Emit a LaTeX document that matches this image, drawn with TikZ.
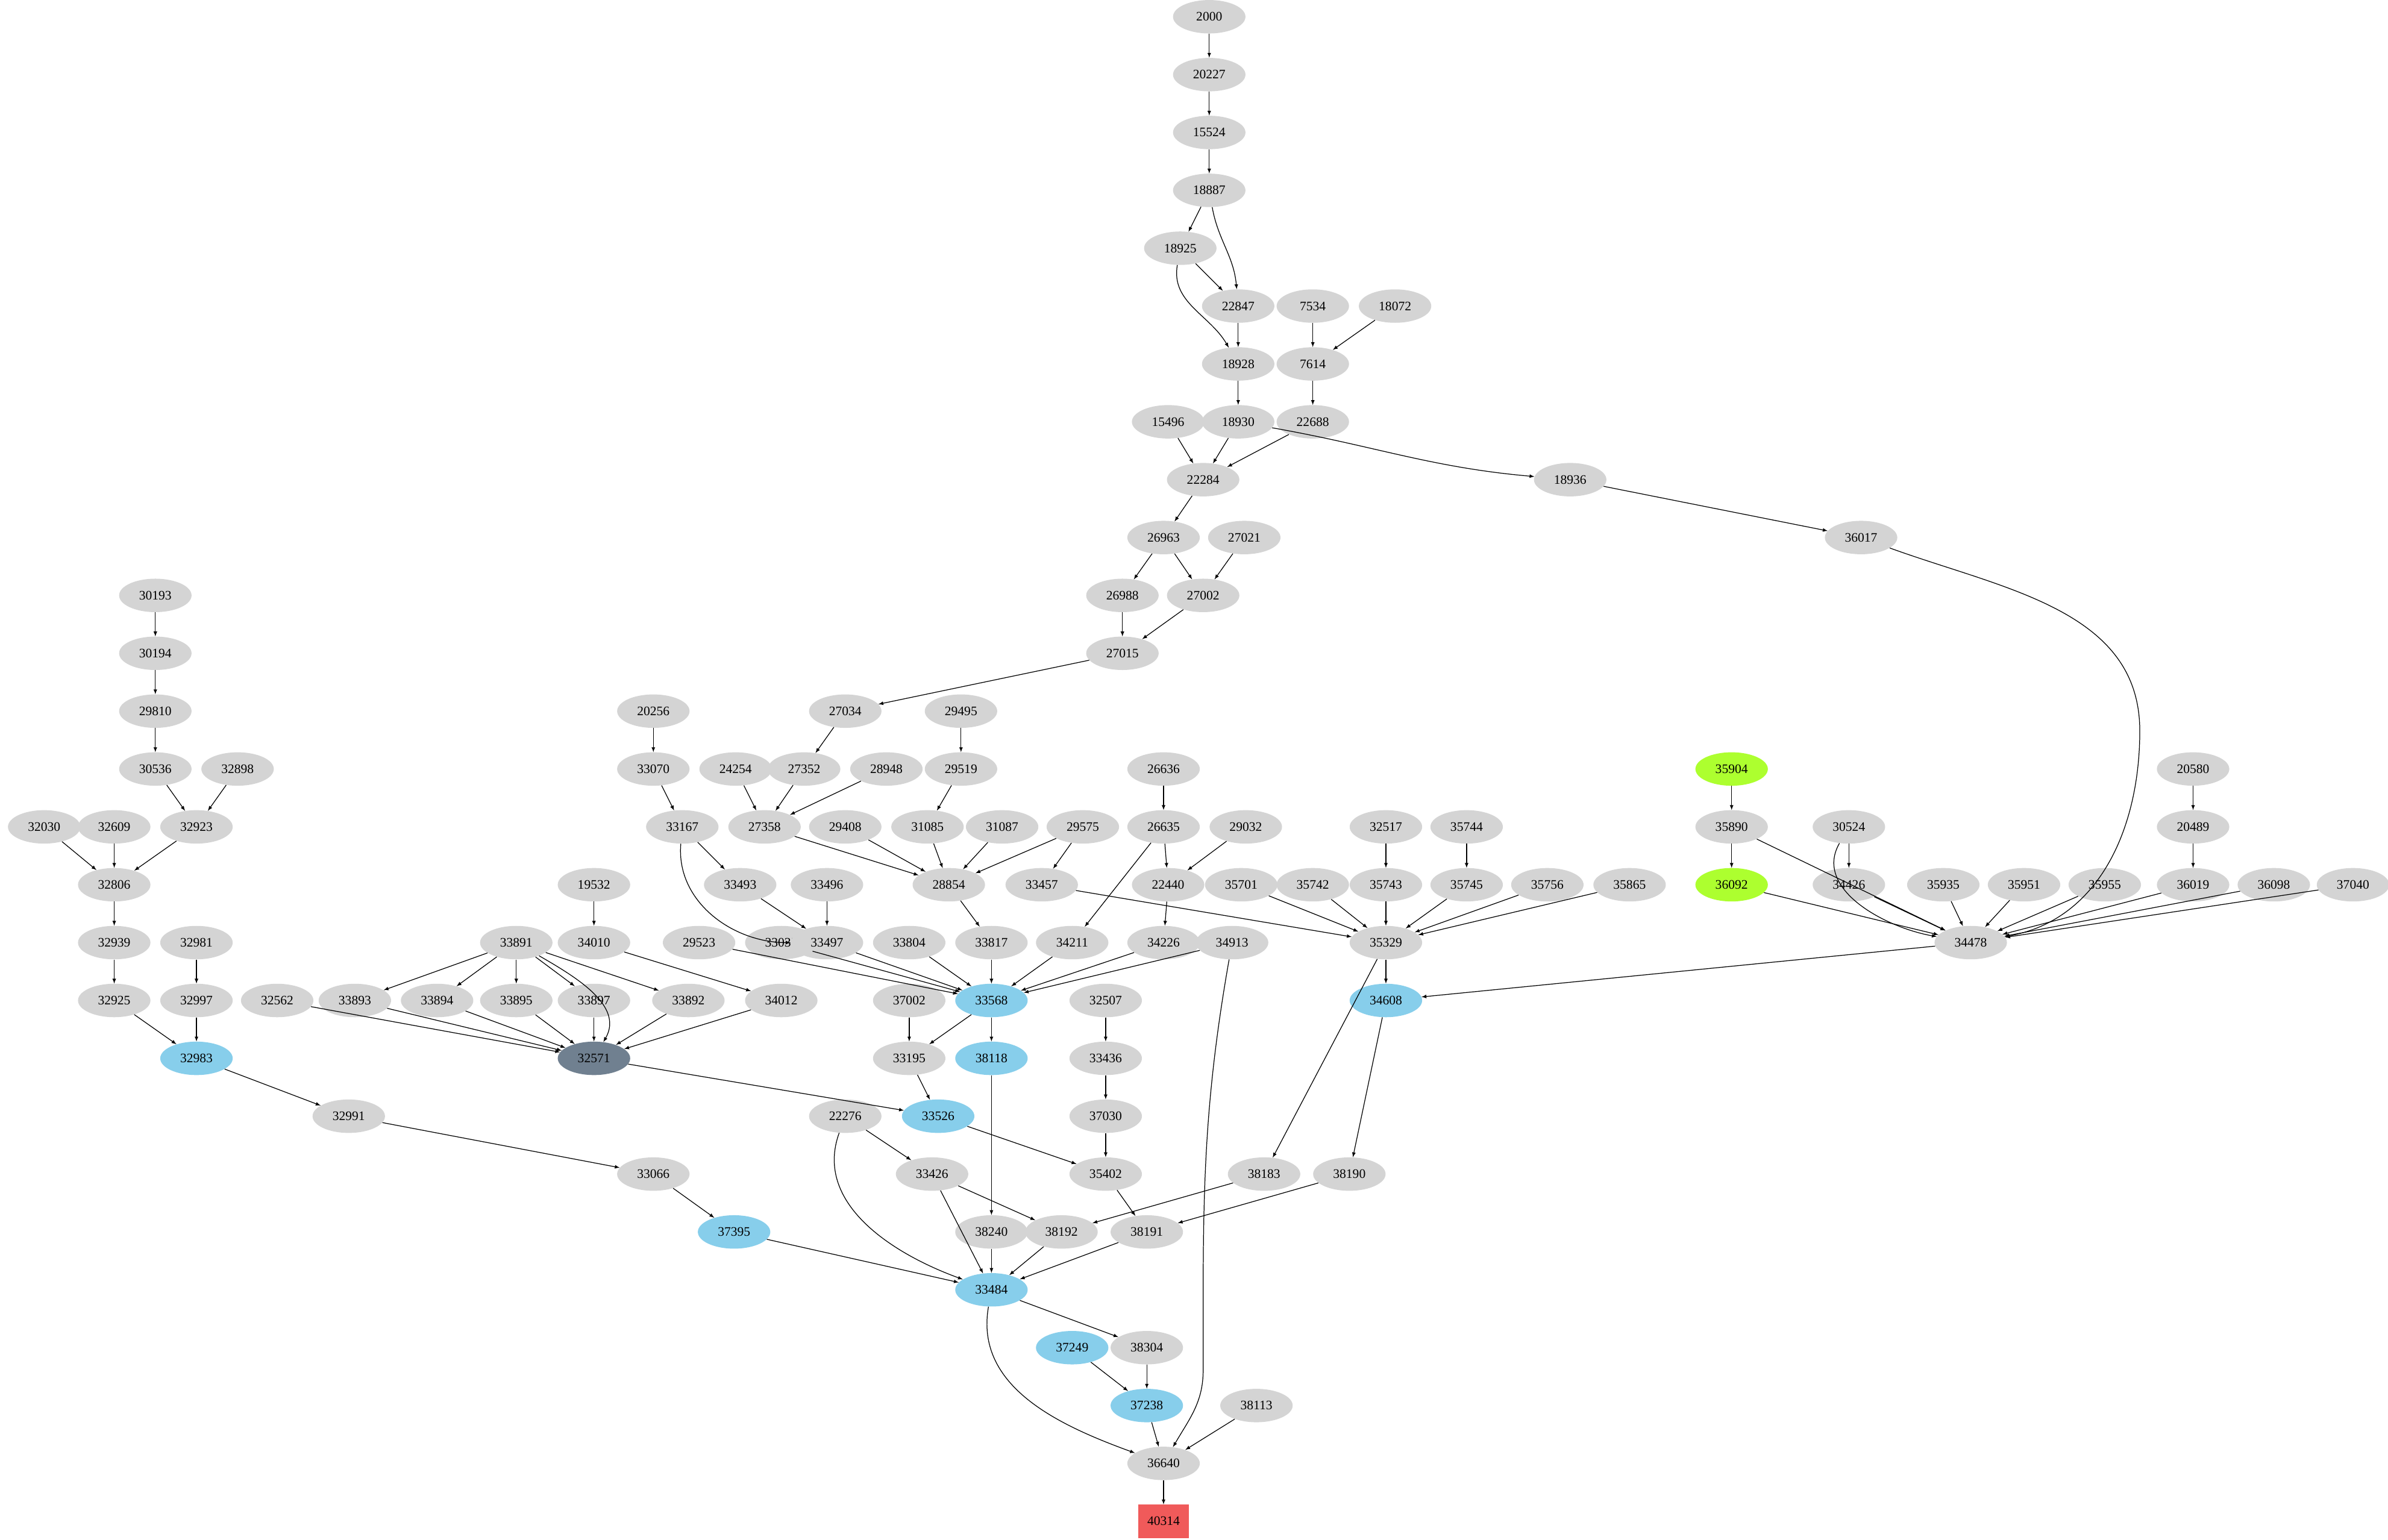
\documentclass[tikz,border=0pt]{standalone}
\usepackage{fontspec}
\setmainfont{Liberation Serif}
\usetikzlibrary{shapes.geometric}
\tikzset{
	nd/.style={ellipse, fill=black!17, minimum width=78pt, minimum height=36pt, inner sep=1pt, font=\fontsize{14}{16}\selectfont},
	sky/.style={nd, fill=cyan!30!blue!20!white, fill={rgb,255:red,135;green,206;blue,235}},
	lime/.style={nd, fill={rgb,255:red,173;green,255;blue,47}},
	slate/.style={nd, fill={rgb,255:red,112;green,128;blue,144}},
	redbox/.style={rectangle, fill={rgb,255:red,240;green,90;blue,90}, minimum width=54pt, minimum height=36pt, font=\fontsize{14}{16}\selectfont},
	edge/.style={-latex, thick}
}
\begin{document}
\begin{tikzpicture}[x=1.64pt, y=-1.64pt]
		\useasboundingbox (0,0) rectangle (1568,1011);
		\foreach \n/\x/\y in {2000/794/11, 20227/794/49, 15524/794/87, 18887/794/125, 18925/775/163,
			22847/813/201, 7534/862/201, 18072/916/201, 18928/813/239, 7614/862/239,
			15496/767/277, 18930/813/277, 22688/862/277, 22284/790/315, 18936/1031/315,
			26963/764/353, 27021/817/353, 36017/1222/353, 30193/102/391, 26988/737/391, 27002/790/391,
			30194/102/429, 27015/737/429, 29810/102/467, 20256/429/467, 27034/555/467, 29495/631/467,
			30536/102/505, 32898/156/505, 33070/429/505, 24254/483/505, 27352/528/505, 28948/582/505,
			29519/631/505, 26636/764/505, 20580/1440/505,
			32030/29/543, 32609/75/543, 32923/129/543, 33167/448/543, 27358/502/543, 29408/555/543,
			31085/609/543, 31087/658/543, 29575/711/543, 26635/764/543, 29032/818/543, 32517/910/543,
			35744/963/543, 35890/1137/543, 30524/1214/543, 20489/1440/543,
			32806/75/581, 19532/390/581, 33493/486/581, 33496/543/581, 28854/623/581, 33457/684/581,
			22440/767/581, 35701/815/581, 35742/862/581, 35743/910/581, 35745/963/581, 35756/1016/581,
			35865/1070/581, 34426/1214/581, 35935/1276/581, 35951/1329/581, 35955/1382/581,
			36019/1440/581, 36098/1493/581, 37040/1545/581,
			32939/75/619, 32981/129/619, 33891/339/619, 34010/390/619, 29523/459/619, 33037/513/619,
			33497/543/619, 33804/597/619, 33817/651/619, 34211/704/619, 34226/764/619, 34913/809/619,
			35329/910/619, 34478/1294/619,
			32925/75/657, 32997/129/657, 32562/182/657, 33893/233/657, 33894/287/657, 33895/339/657,
			33897/390/657, 33892/452/657, 34012/513/657, 37002/597/657, 32507/726/657,
			33195/597/695, 33436/726/695, 32991/229/733, 22276/555/733, 37030/726/733,
			33066/429/771, 33426/612/771, 35402/726/771, 38183/830/771, 38190/886/771,
			38240/651/809, 38192/697/809, 38191/753/809, 38304/753/885, 38113/825/923, 36640/764/961}
			\node[nd] (n\n) at (\x,\y) {\n};
		\foreach \n/\x/\y in {33568/651/657, 34608/910/657, 32983/129/695, 38118/651/695, 33526/616/733,
			37395/482/809, 33484/651/847, 37249/704/885, 37238/753/923}
			\node[sky] (n\n) at (\x,\y) {\n};
		\node[lime] (n35904) at (1137,505) {35904};
		\node[lime] (n36092) at (1137,581) {36092};
		\node[slate] (n32571) at (390,695) {32571};
		\node[redbox] (n40314) at (764,999) {40314};
		% straight connectors
		\foreach \a/\b in {2000/20227, 20227/15524, 15524/18887, 18887/18925, 18925/22847, 22847/18928,
			7534/7614, 18072/7614, 7614/22688, 18928/18930, 15496/22284, 18930/22284, 22688/22284,
			18936/36017, 22284/26963, 26963/26988, 26963/27002, 27021/27002, 26988/27015, 27002/27015,
			27015/27034, 27034/27352, 27352/27358, 24254/27358, 28948/27358, 27358/28854,
			29495/29519, 29519/31085, 31085/28854, 29408/28854, 31087/28854, 29575/28854, 29575/33457,
			28854/33817, 33817/33568, 33457/35329, 26636/26635, 26635/22440, 26635/34211, 29032/22440,
			22440/34226, 34226/33568, 34211/33568, 34913/33568, 33804/33568, 33497/33568, 29523/33568,
			33037/33568, 20256/33070, 33070/33167, 33167/33493, 33493/33497, 33496/33497,
			30193/30194, 30194/29810, 29810/30536, 30536/32923, 32898/32923, 32923/32806, 32030/32806,
			32609/32806, 32806/32939, 32939/32925, 32925/32983, 32981/32997, 32997/32983,
			32983/32991, 32991/33066, 33066/37395, 37395/33484, 19532/34010, 34010/34012, 34012/32571,
			33891/33893, 33891/33894, 33891/33895, 33891/33897, 33891/33892,
			33893/32571, 33894/32571, 33895/32571, 33897/32571, 33892/32571, 32562/32571, 32571/33526,
			33568/33195, 33568/38118, 37002/33195, 33195/33526, 33526/35402, 32507/33436, 33436/37030,
			37030/35402, 35402/38191, 38118/38240, 22276/33426, 33426/38192, 33426/33484, 38183/38192,
			38190/38191, 38240/33484, 38192/33484, 38191/33484, 35329/38183,
			35701/35329, 35742/35329, 35743/35329, 35745/35329, 35756/35329, 35865/35329,
			32517/35743, 35744/35745, 35329/34608, 34608/38190, 34478/34608,
			35904/35890, 35890/36092, 35890/34478, 36092/34478, 30524/34426, 34426/34478,
			35935/34478, 35951/34478, 35955/34478, 36019/34478, 36098/34478, 37040/34478,
			20580/20489, 20489/36019, 33484/38304, 37249/37238, 38304/37238, 37238/36640,
			38113/36640, 36640/40314}
			\draw[edge] (n\a) -- (n\b);
		% curved connectors
		\draw[edge] (n18887) to[out=-80, in=95] (n22847);
		\draw[edge] (n18925) to[out=-100, in=120] (n18928);
		\draw[edge] (n18930) to[out=-10, in=175] (n18936);
		\draw[edge] (n36017) to[out=-20, in=90] (1405,480) to[out=-90, in=10] (n34478);
		\draw[edge] (n33167) to[out=-95, in=180] (n33497);
		\draw[edge] (n33891) to[out=-30, in=60] (n32571);
		\draw[edge] (n30524) to[out=-120, in=170] (n34478);
		\draw[edge] (n34913) to[out=-100, in=90] (790,900) to[out=-90, in=60] (n36640);
		\draw[edge] (n22276) to[out=-110, in=160] (n33484);
		\draw[edge] (n33484) to[out=-100, in=160] (n36640);
	\end{tikzpicture}
\end{document}
